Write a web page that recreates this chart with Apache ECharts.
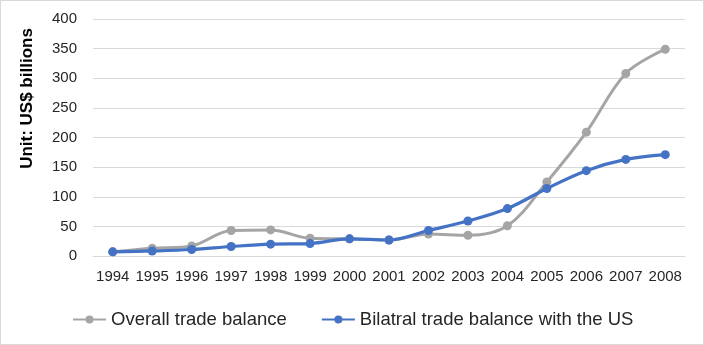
<!DOCTYPE html>
<html>
<head>
<meta charset="utf-8">
<script src="https://cdn.jsdelivr.net/npm/echarts@6/dist/echarts.min.js"></script>
<style>
  html, body { margin: 0; padding: 0; background: #fff; }
  #chart { width: 702px; height: 343px; border: 1px solid #d9d9d9; }
</style>
</head>
<body>
<div id="chart"></div>
<script>
// years on the x axis
var years = ['1994', '1995', '1996', '1997', '1998', '1999', '2000', '2001',
  '2002', '2003', '2004', '2005', '2006', '2007', '2008'];
// US$ billions
var overallBalance = [7, 13, 17, 43, 44, 30, 29, 27, 37, 35, 51, 125, 209, 308, 349];
var bilateralUS = [7, 8.5, 11, 16, 20, 21, 29, 27, 43, 59, 80, 114, 144, 163, 171];

var chart = echarts.init(document.getElementById('chart'));
var font = 'Liberation Sans';

chart.setOption({
  backgroundColor: '#fff',
  animation: false,
  grid: {
    left: 92,
    right: 18,
    top: 18,
    bottom: 88
  },
  legend: {
    left: 66,
    top: 304,
    itemWidth: 33,
    itemHeight: 10,
    itemGap: 34,
    textStyle: { color: '#262626', fontSize: 18.5, fontFamily: font },
    data: ['Overall trade balance', 'Bilatral trade balance with the US']
  },
  xAxis: {
    type: 'category',
    data: years,
    axisLine: { lineStyle: { color: '#d9d9d9', width: 1 } },
    axisTick: { show: false },
    axisLabel: { color: '#262626', fontSize: 15, fontFamily: font, margin: 13, interval: 0 }
  },
  yAxis: {
    type: 'value',
    min: 0,
    max: 400,
    interval: 50,
    name: 'Unit: US$ billions',
    nameLocation: 'middle',
    nameGap: 57,
    nameTextStyle: {
      color: '#000', fontSize: 17, fontWeight: 'bold', fontFamily: font,
      padding: [0, 0, 0, 78]
    },
    axisLine: { show: false },
    axisTick: { show: false },
    axisLabel: { color: '#262626', fontSize: 15, fontFamily: font, margin: 16 },
    splitLine: { lineStyle: { color: '#d9d9d9', width: 1 } }
  },
  series: [
    {
      name: 'Overall trade balance',
      type: 'line',
      data: overallBalance,
      smooth: 0.35,
      symbol: 'circle',
      symbolSize: 9,
      lineStyle: { color: '#a5a5a5', width: 3 },
      itemStyle: { color: '#a5a5a5' }
    },
    {
      name: 'Bilatral trade balance with the US',
      type: 'line',
      data: bilateralUS,
      smooth: 0.35,
      symbol: 'circle',
      symbolSize: 9,
      lineStyle: { color: '#4472c4', width: 3.2 },
      itemStyle: { color: '#4472c4' }
    }
  ]
});
</script>
</body>
</html>
